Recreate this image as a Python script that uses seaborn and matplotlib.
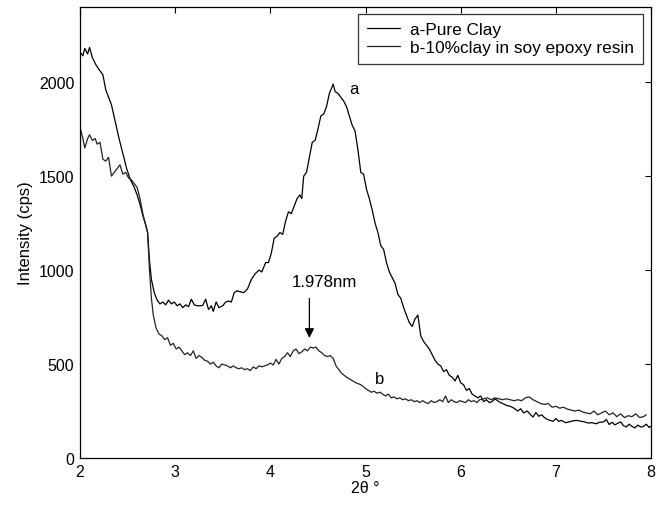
import seaborn as sns
import matplotlib.pyplot as plt
import pandas as pd

# --------------------------------------------------
# Data
# --------------------------------------------------
x_a = [2.00, 2.03, 2.05, 2.08, 2.10, 2.13, 2.17, 2.21, 2.24, 2.27, 2.30, 2.33, 2.37,
       2.41, 2.45, 2.49, 2.53, 2.57, 2.60, 2.63, 2.66, 2.69, 2.71, 2.73, 2.75, 2.78,
       2.81, 2.84, 2.87, 2.90, 2.93, 2.96, 2.99, 3.02, 3.05, 3.08, 3.11, 3.14, 3.17,
       3.20, 3.23, 3.26, 3.29, 3.32, 3.35, 3.38, 3.40, 3.43, 3.46, 3.50, 3.53, 3.56,
       3.59, 3.62, 3.65, 3.68, 3.72, 3.76, 3.80, 3.84, 3.88, 3.91, 3.95, 3.98, 4.01,
       4.04, 4.07, 4.10, 4.13, 4.16, 4.19, 4.22, 4.25, 4.28, 4.31, 4.33, 4.35, 4.38,
       4.41, 4.44, 4.47, 4.50, 4.53, 4.56, 4.59, 4.62, 4.66, 4.68, 4.71, 4.74, 4.77,
       4.80, 4.83, 4.86, 4.89, 4.92, 4.95, 4.98, 5.01, 5.04, 5.07, 5.10, 5.13, 5.16,
       5.19, 5.22, 5.25, 5.28, 5.31, 5.34, 5.37, 5.40, 5.43, 5.46, 5.49, 5.52, 5.55,
       5.58, 5.61, 5.64, 5.67, 5.70, 5.73, 5.76, 5.79, 5.82, 5.85, 5.88, 5.91, 5.94,
       5.97, 6.00, 6.03, 6.06, 6.09, 6.12, 6.15, 6.18, 6.21, 6.24, 6.27, 6.30, 6.33,
       6.36, 6.40, 6.44, 6.48, 6.52, 6.56, 6.60, 6.63, 6.66, 6.70, 6.73, 6.76, 6.79,
       6.82, 6.85, 6.88, 6.91, 6.94, 6.97, 7.00, 7.03, 7.06, 7.10, 7.14, 7.18, 7.22,
       7.26, 7.30, 7.34, 7.38, 7.42, 7.46, 7.50, 7.53, 7.56, 7.59, 7.62, 7.65, 7.68,
       7.71, 7.74, 7.77, 7.80, 7.83, 7.86, 7.89, 7.92, 7.95, 7.98, 8.00]
y_a = [2160, 2140, 2180, 2150, 2185, 2130, 2090, 2060, 2040, 1960, 1920, 1880, 1790,
       1700, 1620, 1540, 1480, 1440, 1400, 1350, 1290, 1240, 1200, 1050, 950, 880,
       840, 820, 830, 815, 840, 820, 830, 810, 820, 800, 815, 805, 845,
       815, 810, 810, 812, 845, 790, 810, 780, 830, 800, 810, 830, 835,
       830, 880, 890, 885, 880, 900, 950, 980, 1000, 990, 1040, 1040, 1090,
       1170, 1180, 1200, 1190, 1260, 1310, 1300, 1340, 1380, 1400, 1380, 1500, 1520,
       1600, 1680, 1690, 1750, 1820, 1830, 1870, 1940, 1990, 1950, 1940, 1920, 1900,
       1870, 1820, 1770, 1740, 1640, 1520, 1510, 1430, 1380, 1320, 1250, 1200, 1130,
       1110, 1040, 990, 960, 930, 870, 850, 800, 760, 720, 700, 740, 760,
       650, 620, 600, 580, 550, 520, 500, 490, 460, 470, 440, 430, 410,
       440, 400, 390, 360, 370, 340, 330, 320, 330, 300, 310, 295, 300,
       315, 300, 290, 280, 275, 265, 250, 262, 240, 250, 232, 218, 242,
       222, 230, 215, 205, 200, 195, 210, 195, 200, 188, 192, 198, 200,
       196, 192, 186, 188, 182, 190, 192, 205, 178, 190, 176, 185, 192,
       172, 165, 180, 168, 160, 175, 165, 168, 180, 162, 170]

x_b = [2.00, 2.03, 2.05, 2.08, 2.10, 2.13, 2.16, 2.18, 2.21, 2.24, 2.27, 2.30, 2.33,
       2.36, 2.39, 2.42, 2.45, 2.48, 2.51, 2.54, 2.57, 2.60, 2.63, 2.66, 2.69, 2.71,
       2.73, 2.75, 2.77, 2.80, 2.83, 2.86, 2.89, 2.92, 2.95, 2.98, 3.01, 3.04, 3.07,
       3.10, 3.13, 3.16, 3.19, 3.22, 3.25, 3.28, 3.31, 3.34, 3.37, 3.40, 3.43, 3.46,
       3.49, 3.52, 3.55, 3.58, 3.61, 3.64, 3.67, 3.70, 3.73, 3.76, 3.79, 3.82, 3.85,
       3.88, 3.91, 3.94, 3.97, 4.00, 4.03, 4.06, 4.09, 4.12, 4.15, 4.18, 4.21, 4.24,
       4.27, 4.30, 4.33, 4.36, 4.39, 4.42, 4.45, 4.48, 4.51, 4.54, 4.57, 4.60, 4.63,
       4.66, 4.69, 4.72, 4.75, 4.80, 4.85, 4.90, 4.95, 5.00, 5.03, 5.06, 5.09, 5.12,
       5.15, 5.18, 5.21, 5.24, 5.27, 5.30, 5.33, 5.36, 5.39, 5.42, 5.45, 5.48, 5.51,
       5.54, 5.57, 5.60, 5.63, 5.66, 5.69, 5.72, 5.75, 5.78, 5.81, 5.84, 5.87, 5.90,
       5.93, 5.96, 5.99, 6.02, 6.05, 6.08, 6.11, 6.14, 6.17, 6.20, 6.24, 6.28, 6.32,
       6.36, 6.40, 6.44, 6.48, 6.52, 6.56, 6.60, 6.64, 6.68, 6.72, 6.76, 6.80, 6.84,
       6.88, 6.92, 6.96, 7.00, 7.04, 7.08, 7.12, 7.16, 7.20, 7.24, 7.28, 7.32, 7.36,
       7.40, 7.44, 7.48, 7.52, 7.56, 7.60, 7.64, 7.68, 7.72, 7.76, 7.80, 7.84, 7.88,
       7.92, 7.95]
y_b = [1760, 1700, 1650, 1700, 1720, 1690, 1700, 1670, 1680, 1590, 1580, 1600, 1500,
       1520, 1540, 1560, 1510, 1520, 1490, 1480, 1460, 1440, 1380, 1300, 1240, 1200,
       1000, 850, 760, 690, 660, 650, 630, 640, 600, 610, 580, 590, 570,
       550, 560, 545, 570, 530, 545, 535, 520, 515, 500, 510, 490, 480,
       500, 495, 490, 480, 490, 480, 475, 480, 470, 475, 465, 485, 475,
       490, 485, 490, 495, 505, 495, 525, 500, 530, 540, 560, 540, 570,
       580, 555, 565, 580, 570, 590, 585, 590, 570, 560, 545, 540, 545,
       530, 490, 470, 450, 430, 415, 400, 390, 370, 360, 350, 355, 345,
       350, 340, 330, 340, 320, 325, 315, 320, 310, 315, 305, 310, 300,
       305, 295, 305, 295, 290, 305, 295, 300, 310, 300, 330, 295, 310,
       300, 295, 305, 300, 295, 310, 300, 305, 295, 310, 315, 320, 310,
       320, 315, 310, 315, 310, 305, 310, 305, 320, 325, 310, 300, 290,
       285, 290, 270, 275, 265, 270, 260, 255, 250, 255, 245, 240, 235,
       250, 230, 240, 250, 230, 240, 220, 235, 215, 225, 220, 235, 215,
       220, 230]

series_names = ["a-Pure Clay", "b-10%clay in soy epoxy resin"]

df_a = pd.DataFrame({"angle": x_a, "intensity": y_a})
df_b = pd.DataFrame({"angle": x_b, "intensity": y_b})

# --------------------------------------------------
# Plot
# --------------------------------------------------
sns.set_style("white")
plt.rcParams["font.family"] = ["Liberation Sans", "DejaVu Sans"]
plt.rcParams["text.color"] = "black"
plt.rcParams["axes.labelcolor"] = "black"

fig = plt.figure(figsize=(6.63, 5.06), dpi=100)
ax = fig.add_axes([0.1207, 0.0929, 0.8613, 0.8913])

sns.lineplot(x="angle", y="intensity", data=df_a, ax=ax, color="black",
             linewidth=0.9, label=series_names[0])
sns.lineplot(x="angle", y="intensity", data=df_b, ax=ax, color="#222222",
             linewidth=0.9, label=series_names[1])

ax.set_xlim(2, 8)
ax.set_ylim(0, 2400)
ax.set_xticks([2, 3, 4, 5, 6, 7, 8])
ax.set_yticks([0, 500, 1000, 1500, 2000])
ax.tick_params(direction="in", length=4, width=0.8, top=True, right=True,
               labelsize=11.5, colors="black", pad=4)
for s in ax.spines.values():
    s.set_color("black")
    s.set_linewidth(0.9)

ax.set_xlabel("2θ °", fontsize=11.5, labelpad=1)
ax.set_ylabel("Intensity (cps)", fontsize=12, labelpad=4)

# curve labels and peak annotation
ax.text(4.83, 1968, "a", fontsize=12, va="center", ha="left")
ax.text(5.10, 421, "b", fontsize=12, va="center", ha="left")
ax.annotate("", xy=(4.41, 624), xytext=(4.41, 864),
            arrowprops=dict(arrowstyle="-|>", color="black", lw=0.9,
                            mutation_scale=14))
ax.text(4.57, 939, "1.978nm", fontsize=12.2, ha="center", va="center")

leg = ax.legend(loc="upper right", bbox_to_anchor=(0.985, 0.985),
                borderaxespad=0, fancybox=False, frameon=True,
                edgecolor="black", fontsize=12.4, handlelength=1.9,
                handletextpad=0.6, borderpad=0.5, labelspacing=0.15)
leg.get_frame().set_linewidth(0.9)

plt.savefig("out.png", dpi=100)
